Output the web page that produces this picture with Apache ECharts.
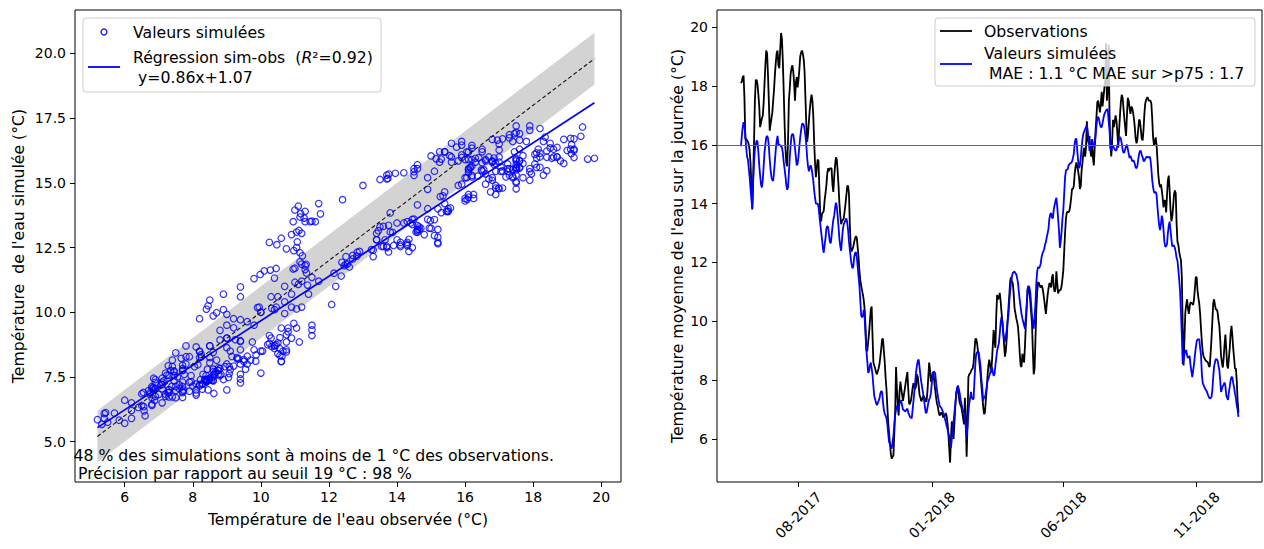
<!DOCTYPE html>
<html><head><meta charset="utf-8">
<script src="https://cdn.jsdelivr.net/npm/echarts@6/dist/echarts.min.js"></script>
<style>html,body{margin:0;padding:0;background:#fff}#c{width:1264px;height:549px}</style>
</head><body><div id="c"></div>
<script>
// ---- data (daily values, starting 2017-05-27) ----
const START_DATE = [2017, 4, 27];   // 2017-05-27 (month 0-based)
const STEP_DAYS = 1;
const observed = [
18.1,18.15,18.3,18.35,17.6,16.2,16.2,16.15,16.1,16.0,
15.8,15.35,14.6,13.8,14.9,16.1,17.5,18.2,18.2,18.05,
17.7,17.3,16.6,16.75,16.9,16.98,17.4,18.05,18.7,19.2,
19.1,18.4,17.5,16.48,16.7,16.9,17.1,17.5,17.9,18.4,
18.8,19.12,19.2,18.7,18.6,19.2,19.8,19.6,18.9,17.9,
16.8,15.9,15.4,15.27,16.1,17.5,17.9,18.4,18.6,18.7,
18.5,18.1,17.5,18.1,18.3,17.95,18.2,18.55,19.0,19.13,
19.2,19.1,18.9,18.5,17.6,16.7,16.1,16.37,16.8,17.2,
17.5,17.7,17.5,17.0,16.1,15.4,14.9,15.2,15.5,15.45,
14.5,13.6,13.4,13.65,13.7,13.75,14.1,14.35,14.6,15.0,
15.2,15.1,15.2,15.2,15.2,14.65,14.4,14.9,15.3,15.57,
15.5,15.1,14.6,14.0,13.6,13.3,13.4,13.45,13.5,13.75,
14.0,14.3,14.6,14.6,14.3,13.25,12.5,12.38,12.45,12.55,
12.7,12.83,12.9,12.82,12.5,12.15,11.7,11.4,11.2,11.05,
10.9,10.7,10.4,9.8,9.0,9.0,9.3,9.6,10.0,10.4,
10.5,9.5,8.6,8.5,8.4,8.27,8.2,8.3,8.4,8.55,
8.8,9.07,9.4,9.4,9.0,8.62,8.1,7.7,7.1,6.57,
6.2,5.84,5.5,5.33,5.4,5.44,6.2,7.0,8.45,7.7,
7.1,6.8,7.6,7.95,7.7,7.5,7.3,7.5,7.7,7.9,
8.1,8.28,7.7,7.2,7.2,7.3,7.5,7.73,7.9,7.75,
7.7,7.8,8.2,8.1,7.8,7.5,7.4,7.28,7.35,7.45,
7.45,7.38,7.3,7.27,7.6,8.1,8.6,8.35,7.95,8.05,
8.2,8.25,7.9,7.66,7.4,7.2,7.1,6.9,6.8,6.85,
6.9,6.85,6.75,6.74,6.8,6.88,6.8,6.56,6.2,5.7,
5.2,6.0,6.6,6.4,6.0,6.55,7.1,7.55,7.7,7.7,
7.45,7.24,7.15,7.07,6.9,6.7,6.5,7.4,6.8,5.4,
6.5,8.1,8.2,8.23,8.3,8.37,8.4,8.6,9.0,9.4,
9.4,9.25,9.0,8.8,8.5,8.2,7.8,7.45,7.1,6.85,
6.9,7.3,7.7,8.15,8.5,8.7,8.5,8.25,8.6,9.15,
9.7,9.35,9.1,10.2,10.9,10.75,10.8,10.97,10.7,10.32,
10.0,9.6,9.2,8.8,9.0,9.4,10.0,10.45,10.9,11.37,
11.5,11.34,11.3,10.95,10.45,10.28,10.1,9.98,9.8,9.4,
8.9,8.5,8.45,8.9,8.7,8.6,9.2,9.9,10.5,11.1,
11.2,11.0,10.7,10.3,9.95,9.0,8.2,8.4,9.4,10.4,
11.0,11.33,11.3,11.2,11.15,11.22,11.15,10.97,10.75,10.47,
10.25,10.6,10.9,11.12,11.3,11.27,11.15,11.5,11.6,11.17,
11.0,11.1,11.7,11.3,10.95,11.05,11.05,11.07,11.2,11.45,
11.75,12.4,13.0,13.5,13.7,13.73,13.7,13.76,13.95,14.2,
14.5,14.5,14.6,15.0,15.25,15.4,15.25,15.1,14.9,14.5,
14.6,15.15,15.4,15.75,15.9,15.6,15.9,16.8,16.2,16.05,
16.3,15.8,15.6,16.1,15.55,15.3,15.9,16.5,16.95,17.45,
17.5,17.3,17.1,17.4,17.8,17.3,17.6,17.9,18.2,19.45,
17.5,17.9,19.4,17.0,16.0,15.6,16.1,16.85,16.6,16.8,
17.0,16.8,16.4,15.9,16.5,17.0,17.45,17.7,17.6,17.25,
16.9,16.6,16.3,17.0,17.6,17.5,17.25,17.05,17.3,17.25,
17.1,16.9,16.6,16.2,16.05,16.2,16.55,16.86,16.8,16.5,
16.2,16.15,16.5,17.05,17.4,17.52,17.6,17.6,17.5,17.5,
17.5,17.4,16.9,16.25,16.0,16.06,16.25,16.0,15.5,14.98,
14.7,14.56,14.65,14.45,14.2,13.87,14.1,14.1,13.7,14.3,
14.8,14.95,14.45,13.8,13.4,13.55,13.9,14.3,14.45,14.35,
13.3,12.7,12.6,12.36,12.2,12.08,11.5,9.8,8.5,9.4,
10.3,10.56,10.75,10.45,10.25,10.5,10.65,10.62,10.6,10.56,
10.75,11.13,11.5,11.5,11.05,10.8,10.6,10.25,9.75,9.3,
8.95,8.8,8.75,8.68,8.65,8.63,8.6,8.48,8.45,8.9,
9.4,10.0,10.6,10.75,10.55,10.41,10.4,10.32,10.05,9.86,
9.4,8.83,8.6,8.43,8.75,9.2,9.55,9.05,8.5,8.4,
8.75,9.1,9.6,9.85,9.5,9.07,8.75,8.39,8.4,8.0,
7.3,6.9
];
const simulated = [
15.95,16.3,16.6,16.77,16.65,16.34,15.9,15.6,15.5,15.2,
14.9,14.5,14.15,13.84,14.75,15.4,15.85,16.0,16.15,16.1,
15.75,15.3,14.95,14.65,14.55,14.8,15.25,15.73,16.0,16.25,
16.3,16.23,15.95,15.5,15.15,14.9,14.8,14.77,15.1,15.47,
15.85,16.13,16.3,16.0,16.0,15.98,15.95,15.92,15.75,15.43,
15.2,14.95,14.65,14.47,14.55,15.05,15.55,15.99,16.3,16.37,
16.35,16.16,15.9,15.6,15.3,15.35,15.6,15.95,16.25,16.48,
16.7,16.72,16.68,16.53,16.3,16.0,15.55,15.26,15.1,15.23,
15.3,15.2,15.0,14.78,14.45,14.2,14.0,14.0,14.0,13.9,
13.6,13.32,13.05,12.8,12.5,12.33,12.6,12.82,13.15,13.24,
13.2,12.96,12.7,12.65,12.9,13.2,13.45,13.59,13.85,14.03,
13.9,13.58,13.2,12.8,12.55,12.4,12.8,13.15,13.3,13.36,
13.45,13.5,13.35,13.09,12.7,12.42,12.15,11.93,11.8,11.87,
12.2,12.32,12.35,12.17,11.85,11.51,11.2,10.7,10.2,10.13,
10.2,10.4,10.1,9.5,9.0,8.63,8.25,8.3,8.5,8.6,
8.4,8.17,7.8,7.46,7.35,7.23,7.15,7.22,7.3,7.38,
7.55,7.63,7.6,7.27,7.0,6.86,6.8,6.71,6.5,6.19,
5.9,5.83,5.75,5.67,5.9,6.12,6.5,6.82,7.0,7.13,
7.05,7.07,7.2,7.32,7.3,7.13,7.0,6.98,6.95,6.95,
7.0,7.03,6.9,6.83,6.75,6.73,6.7,7.0,7.3,7.6,
7.95,8.28,8.5,8.66,8.7,8.43,8.15,7.93,7.75,7.56,
7.35,7.13,6.9,6.89,7.05,7.23,7.35,7.41,7.55,7.9,
8.25,8.28,8.28,8.22,7.9,7.65,7.45,7.29,7.13,7.09,
7.05,6.99,6.9,6.82,6.7,6.59,6.45,6.35,6.2,6.1,
5.85,5.71,6.0,6.32,6.6,6.9,7.2,7.5,7.75,7.82,
7.7,7.57,7.35,7.21,7.05,6.97,6.85,6.73,6.4,6.08,
6.4,6.88,7.2,7.4,7.6,7.4,7.35,7.37,8.0,8.55,
8.9,8.94,9.0,8.93,8.7,8.47,8.0,7.73,7.3,7.45,
7.4,7.57,7.75,7.97,8.05,8.15,8.25,8.36,8.45,8.29,
8.15,8.2,8.5,8.75,9.0,9.13,9.25,9.57,9.95,10.15,
10.0,9.64,9.4,9.3,9.5,9.71,10.0,10.2,10.7,11.05,
11.35,11.52,11.65,11.67,11.69,11.63,11.6,11.46,11.3,10.98,
10.7,10.47,10.25,10.1,9.98,9.86,9.75,10.18,10.6,11.08,
11.2,11.16,11.0,10.6,10.2,9.92,9.75,10.12,10.6,11.32,
11.7,11.85,11.8,11.86,11.95,12.18,12.3,12.38,12.45,12.61,
12.7,12.86,13.0,13.16,13.5,13.64,13.68,13.52,13.5,13.81,
13.95,14.1,14.2,13.9,13.5,13.1,12.5,12.72,13.05,13.5,
13.8,14.35,14.9,15.13,15.15,15.17,15.3,15.34,15.37,15.39,
15.43,15.55,15.7,16.04,16.2,16.2,15.8,15.45,15.2,15.29,
15.55,15.93,16.2,16.38,16.46,16.53,16.6,16.68,16.45,16.2,
15.8,15.85,16.0,16.19,16.05,15.92,15.98,16.3,16.65,16.9,
16.95,16.86,16.7,16.6,16.6,16.74,16.9,17.03,17.1,17.16,
17.2,17.2,16.8,16.5,15.9,15.8,15.9,15.96,15.9,15.85,
15.8,15.82,15.97,16.08,16.2,16.27,16.2,16.05,15.85,15.73,
15.75,15.85,15.95,16.0,15.85,15.7,15.55,15.62,15.55,15.44,
15.46,15.45,15.35,15.23,15.2,15.29,15.5,15.7,15.8,15.78,
15.65,15.58,15.46,15.44,15.52,15.57,15.6,15.57,15.57,15.6,
15.5,15.2,14.8,14.55,14.4,14.36,14.4,14.3,13.9,13.54,
13.25,13.1,13.3,13.59,13.45,13.09,12.7,12.54,12.55,12.63,
13.0,13.25,13.39,13.1,12.8,12.54,12.58,12.57,12.5,12.35,
12.15,12.06,11.75,11.4,11.0,10.3,9.5,8.55,8.7,8.87,
9.0,9.02,8.85,8.75,8.8,8.82,8.5,8.3,8.1,8.33,
8.55,8.85,9.1,9.32,9.39,9.39,9.39,9.1,8.85,8.2,
7.9,7.83,7.75,7.7,7.65,7.59,7.5,7.43,7.37,7.4,
7.42,7.65,8.1,8.47,8.6,8.72,8.7,8.68,8.5,8.35,
8.0,7.6,7.7,7.8,7.85,7.92,7.8,7.48,7.4,7.33,
7.6,7.78,8.0,8.11,8.1,7.9,7.75,7.55,7.4,7.15,
7.0,6.75
];
const regSlope = 0.86;
const regIntercept = 1.07;
const bandHalfWidth = 1;       // ±1 °C around the 1:1 line
const thresholdValue = 16;
const leftXTicks = [6, 8, 10, 12, 14, 16, 18, 20];
const leftYTicks = [5, 7.5, 10, 12.5, 15, 17.5, 20];
const rightYTicks = [6, 8, 10, 12, 14, 16, 18, 20];
const rightXTickDates = ['2017-08-01', '2018-01-01', '2018-06-01', '2018-11-01'];
const rightXWindow = ['2017-04-29', '2019-01-15'];

// ---- derived ----
const DAY = 86400000;
const t0 = Date.UTC(START_DATE[0], START_DATE[1], START_DATE[2]);
const times = observed.map((_, i) => t0 + i * STEP_DAYS * DAY);
const obsSeries = observed.map((v, i) => [times[i], v]);
const simSeries = simulated.map((v, i) => [times[i], v]);
const scatterPairs = observed.map((o, i) => [o, simulated[i]]);
const oMin = Math.min(...observed), oMax = Math.max(...observed);
const toTs = s => { const p = s.split('-').map(Number); return Date.UTC(p[0], p[1] - 1, p[2]); };
const rightXTicks = rightXTickDates.map(toTs);
const tMin = toTs(rightXWindow[0]) + DAY / 2;
const tMax = toTs(rightXWindow[1]);

const FONT = 'DejaVu Sans';
const FS = 14;      // tick labels
const FS2 = 15.7;   // titles, legends, notes
const txt = {color: '#000', fontSize: FS, fontFamily: FONT};
const txt2 = {color: '#000', fontSize: FS2, fontFamily: FONT};

const chart = echarts.init(document.getElementById('c'), null, {renderer: 'svg'});

const tickStyle = {show: true, inside: false, length: 5, lineStyle: {color: '#000', width: 1}};
const gridBox = {show: true, borderColor: '#000', borderWidth: 1, backgroundColor: 'transparent'};
const fmtDate = v => { const d = new Date(v); const m = d.getUTCMonth() + 1; return (m < 10 ? '0' : '') + m + '-' + d.getUTCFullYear(); };
const font = FS2 + 'px "' + FONT + '"';
const gtext = (x, y, text, extra) => ({type: 'text', z: 101, style: Object.assign({x: x, y: y, text: text, fill: '#000', font: font, textVerticalAlign: 'middle', verticalAlign: 'middle'}, extra || {})});

const option = {
  animation: false,
  backgroundColor: '#fff',
  textStyle: {fontFamily: FONT},
  grid: [
    Object.assign({left: 75, top: 10, width: 546, height: 472}, gridBox),
    Object.assign({left: 717, top: 10, width: 545, height: 472}, gridBox)
  ],
  xAxis: [
    {
      gridIndex: 0, type: 'value', min: 4.54, max: 20.58,
      axisLine: {show: false}, splitLine: {show: false},
      axisTick: Object.assign({customValues: leftXTicks}, tickStyle),
      axisLabel: Object.assign({customValues: leftXTicks, margin: 8}, txt),
      name: "Température de l'eau observée (°C)", nameLocation: 'middle', nameGap: 29,
      nameTextStyle: txt2
    },
    {
      gridIndex: 1, type: 'value', min: tMin, max: tMax,
      axisLine: {show: false}, splitLine: {show: false},
      axisTick: Object.assign({customValues: rightXTicks}, tickStyle),
      axisLabel: Object.assign({
        customValues: rightXTicks, rotate: 45, align: 'center', verticalAlign: 'middle', margin: 33,
        formatter: fmtDate
      }, txt)
    }
  ],
  yAxis: [
    {
      gridIndex: 0, type: 'value', min: 3.44, max: 21.68,
      axisLine: {show: false}, splitLine: {show: false},
      axisTick: Object.assign({customValues: leftYTicks}, tickStyle),
      axisLabel: Object.assign({customValues: leftYTicks, margin: 9, formatter: v => Number(v).toFixed(1)}, txt),
      name: "Température  de l'eau simulée (°C)", nameLocation: 'middle', nameGap: 49,
      nameTextStyle: txt2
    },
    {
      gridIndex: 1, type: 'value', min: 4.54, max: 20.58,
      axisLine: {show: false}, splitLine: {show: false},
      axisTick: Object.assign({customValues: rightYTicks}, tickStyle),
      axisLabel: Object.assign({customValues: rightYTicks, margin: 9}, txt),
      name: "Température moyenne de l'eau sur la journée (°C)", nameLocation: 'middle', nameGap: 32,
      nameTextStyle: txt2
    }
  ],
  series: [
    {
      name: 'band', type: 'custom', xAxisIndex: 0, yAxisIndex: 0, silent: true, z: 1,
      data: [[oMin, oMax]], encode: {x: [0, 1], y: [0, 1]},
      renderItem: (params, api) => {
        const x0 = api.value(0), x1 = api.value(1), h = bandHalfWidth;
        const pts = [[x0, x0 - h], [x1, x1 - h], [x1, x1 + h], [x0, x0 + h]].map(p => api.coord(p));
        return {type: 'polygon', shape: {points: pts}, style: {fill: '#d3d3d3'}};
      }
    },
    {
      name: 'Valeurs simulées', type: 'scatter', xAxisIndex: 0, yAxisIndex: 0, z: 2,
      data: scatterPairs, symbol: 'circle', symbolSize: 6.5,
      itemStyle: {color: 'rgba(0,0,0,0)', borderColor: '#0000ff', borderWidth: 1.2}
    },
    {
      name: '1:1', type: 'line', xAxisIndex: 0, yAxisIndex: 0, z: 3, symbol: 'none', silent: true,
      data: [[oMin, oMin], [oMax, oMax]],
      lineStyle: {color: '#111', width: 1.1, type: [4, 2.5]}
    },
    {
      name: 'Régression sim-obs', type: 'line', xAxisIndex: 0, yAxisIndex: 0, z: 4, symbol: 'none', silent: true,
      data: [[oMin, regSlope * oMin + regIntercept], [oMax, regSlope * oMax + regIntercept]],
      lineStyle: {color: '#0000ff', width: 1.7}
    },
    {
      name: 'Observations', type: 'line', xAxisIndex: 1, yAxisIndex: 1, z: 3, symbol: 'none',
      data: obsSeries, lineStyle: {color: '#000', width: 1.8},
      markLine: {
        silent: true, symbol: ['none', 'none'], label: {show: false},
        lineStyle: {color: '#666', width: 1.2, type: 'solid'},
        data: [{yAxis: thresholdValue}]
      }
    },
    {
      name: 'Valeurs simulées (série)', type: 'line', xAxisIndex: 1, yAxisIndex: 1, z: 4, symbol: 'none',
      data: simSeries, lineStyle: {color: '#0000ff', width: 1.8}
    }
  ],
  graphic: [
    {type: 'rect', z: 100, shape: {x: 83, y: 18, width: 298, height: 74, r: 3},
     style: {fill: 'rgba(255,255,255,0.8)', stroke: '#cccccc', lineWidth: 1}},
    {type: 'circle', z: 101, shape: {cx: 104, cy: 32, r: 3},
     style: {fill: 'none', stroke: '#0000ff', lineWidth: 1.2}},
    gtext(133, 32, 'Valeurs simulées'),
    {type: 'line', z: 101, shape: {x1: 88, y1: 67, x2: 120, y2: 67}, style: {stroke: '#0000ff', lineWidth: 1.8}},
    gtext(133, 57, '{n|Régression sim-obs  (}{i|R}{n|²=0.92)}', {
      rich: {n: {fontSize: FS2, fontFamily: FONT, fill: '#000'}, i: {fontSize: FS2, fontFamily: FONT, fontStyle: 'italic', fill: '#000'}}}),
    gtext(138, 77.5, 'y=0.86x+1.07'),
    gtext(73.5, 455, '48 % des simulations sont à moins de 1 °C des observations.'),
    gtext(78, 473.5, 'Précision par rapport au seuil 19 °C : 98 %'),
    {type: 'rect', z: 100, shape: {x: 935, y: 18, width: 320, height: 68, r: 3},
     style: {fill: 'rgba(255,255,255,0.8)', stroke: '#cccccc', lineWidth: 1}},
    {type: 'line', z: 101, shape: {x1: 940, y1: 31, x2: 972, y2: 31}, style: {stroke: '#000', lineWidth: 1.8}},
    gtext(984, 31, 'Observations'),
    {type: 'line', z: 101, shape: {x1: 940, y1: 64, x2: 972, y2: 64}, style: {stroke: '#0000ff', lineWidth: 1.8}},
    gtext(984, 53.5, 'Valeurs simulées'),
    gtext(989, 73, 'MAE : 1.1 °C MAE sur >p75 : 1.7')
  ]
};
chart.setOption(option);
</script>
</body></html>
